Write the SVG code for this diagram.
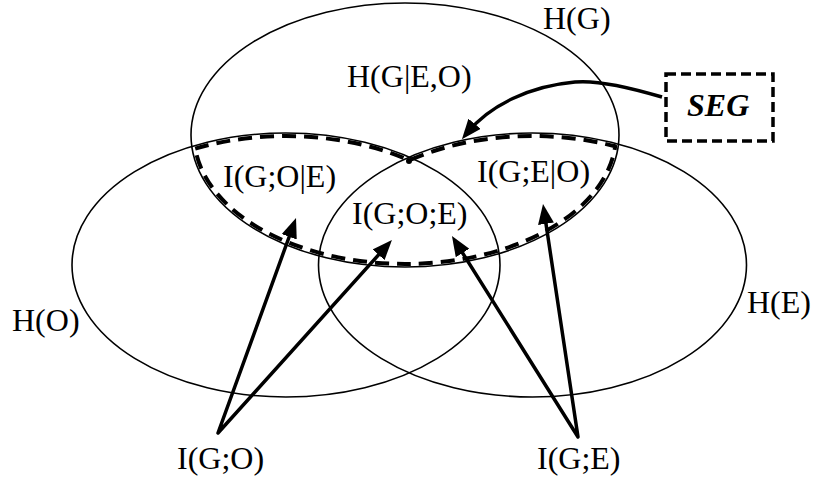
<svg xmlns="http://www.w3.org/2000/svg" width="813" height="481" viewBox="0 0 813 481">
<style>
  .ell { fill: none; stroke: #000; stroke-width: 1.6; }
  .lbl { font-family: "Liberation Serif", "Times New Roman", serif; font-size: 32px; fill: #000; }
  .seg { font-family: "Liberation Serif", "Times New Roman", serif; font-size: 32px; font-weight: bold; font-style: italic; fill: #000; }
  .region { fill: none; stroke: #000; stroke-width: 4; stroke-dasharray: 14 8; stroke-linejoin: round; }
  .box { fill: none; stroke: #000; stroke-width: 3.5; stroke-dasharray: 10 5; }
  .arrow { fill: none; stroke: #000; stroke-width: 3.5; stroke-linejoin: round; marker-end: url(#ah); }
  .varrow { fill: none; stroke: #000; stroke-width: 3.5; stroke-linejoin: round; marker-start: url(#ahs); marker-end: url(#ah); }
</style>
<defs>
  <marker id="ah" viewBox="0 0 20 16" refX="12" refY="8" markerWidth="20" markerHeight="16" markerUnits="userSpaceOnUse" orient="auto">
    <path d="M0,0 L20,8 L0,16 z" fill="#000"/>
  </marker>
  <marker id="ahs" viewBox="0 0 20 16" refX="12" refY="8" markerWidth="20" markerHeight="16" markerUnits="userSpaceOnUse" orient="auto-start-reverse">
    <path d="M0,0 L20,8 L0,16 z" fill="#000"/>
  </marker>
</defs>

<g id="node-HG">
  <ellipse class="ell" cx="405" cy="135" rx="214" ry="132"/>
  <text class="lbl" x="543" y="29">H(G)</text>
</g>
<g id="node-HO">
  <ellipse class="ell" cx="286" cy="265" rx="214" ry="132"/>
  <text class="lbl" x="12" y="331">H(O)</text>
</g>
<g id="node-HE">
  <ellipse class="ell" cx="532.5" cy="265" rx="214" ry="132"/>
  <text class="lbl" x="747" y="313">H(E)</text>
</g>
<g id="node-SEG-region">
  <path class="region" d="M195.2,148.6 A211,129 0 0 1 409.25,160.3 A211,129 0 0 1 615.2,146.3 A211,129 0 0 1 195.2,148.6 Z"/>
  <circle cx="409" cy="161" r="3" fill="#000"/>
</g>
<g id="node-HGEO">
  <text class="lbl" x="347" y="87">H(G|E,O)</text>
</g>
<g id="node-IGOE-cond">
  <text class="lbl" x="223" y="187">I(G;O|E)</text>
</g>
<g id="node-IGEO-cond">
  <text class="lbl" x="477" y="182">I(G;E|O)</text>
</g>
<g id="node-IGOE">
  <text class="lbl" x="352" y="224">I(G;O;E)</text>
</g>
<g id="node-SEG">
  <rect class="box" x="666" y="74" width="107" height="67"/>
  <text class="seg" x="687" y="116">SEG</text>
</g>
<g id="node-IGO">
  <text class="lbl" x="177" y="469">I(G;O)</text>
</g>
<g id="node-IGE">
  <text class="lbl" x="537" y="469">I(G;E)</text>
</g>

<g id="connectors">
  <path class="varrow" d="M293.3,225.5 L218,433 L386.6,245.9"/>
  <path class="varrow" d="M456.2,242.8 L578,437 L544.2,211.9"/>
  <path class="arrow" d="M662,97 C625,86 595,80 575,82 C530,86 490,105 467,133"/>
</g>
</svg>
